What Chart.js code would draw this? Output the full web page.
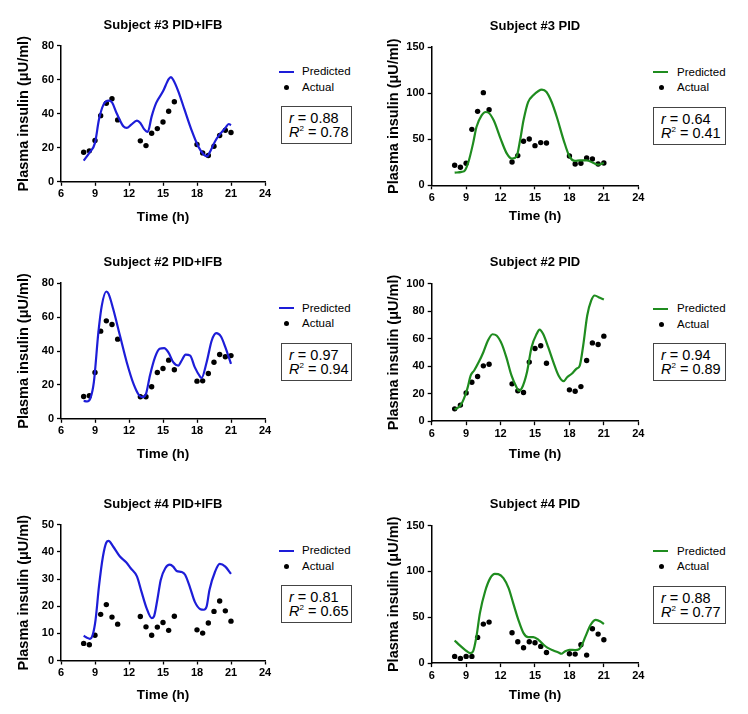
<!DOCTYPE html>
<html>
<head>
<meta charset="utf-8">
<script src="https://cdn.jsdelivr.net/npm/chart.js@4.4.1/dist/chart.umd.min.js"></script>
<style>
  html, body { margin: 0; padding: 0; background: #fff; }
  body { width: 748px; height: 714px; position: relative; overflow: hidden;
         font-family: "Liberation Sans", Arial, Helvetica, sans-serif; color: #000; }
  canvas { position: absolute; }
  .lg-line { position: absolute; width: 15px; height: 2px; }
  .lg-dot { position: absolute; width: 5px; height: 5px; border-radius: 50%; background: #000; }
  .lg-text { position: absolute; font-size: 11.5px; line-height: 12px; white-space: nowrap; }
  .stats { position: absolute; border: 1px solid #444; box-sizing: border-box;
           font-size: 14.5px; line-height: 14px; padding: 4px 0 0 7px; white-space: nowrap; }
  .stats sup { font-size: 8px; vertical-align: 6px; line-height: 0; }
</style>
</head>
<body>
<script>
// sampling times of measured insulin (h)
const sampleTimes = [8, 8.5, 9, 9.5, 10, 10.5, 11, 13, 13.5, 14, 14.5, 15, 15.5, 16, 18, 18.5, 19, 19.5, 20, 20.5, 21];

// Subject #3 PID+IFB
const s3IfbActual = [17.4, 18.2, 24.3, 38.9, 46.2, 48.9, 36.4, 24.1, 21.3, 28.6, 31.3, 35.2, 41.5, 47.1, 21.9, 17.0, 15.5, 20.9, 27.2, 30.3, 29.0];
const s3IfbPredT = [8, 8.5, 9, 9.35, 9.75, 10.2, 10.5, 10.9, 11.5, 11.8, 12.2, 12.7, 13.0, 13.3, 13.65, 14.0, 14.4, 15.0, 15.5, 15.7, 15.9, 16.35, 16.9, 17.5, 18.1, 18.6, 18.9, 19.1, 19.6, 20.0, 20.5, 20.8, 21];
const s3IfbPredV = [12.5, 17, 22.9, 36.6, 45.4, 47.7, 46.7, 40.5, 32.7, 31.7, 33.6, 36, 34.6, 31.3, 29.3, 38.5, 46.4, 53.2, 60.4, 61.6, 60, 53.2, 42.4, 30.7, 20.9, 16, 15, 17, 23.9, 27.8, 31.7, 34, 33.3];

// Subject #3 PID
const s3PidActual = [21.7, 19.5, 23.9, 60.7, 80.2, 100.5, 82.0, 25.3, 32.2, 47.7, 50.2, 43.0, 46.3, 45.9, 31.8, 23.1, 23.9, 29.6, 28.6, 23.1, 24.2];
const s3PidPredT = [8, 8.6, 8.9, 9.2, 9.6, 9.9, 10.35, 10.7, 10.9, 11.4, 12.0, 12.55, 13.0, 13.4, 13.7, 14.0, 14.4, 14.85, 15.3, 15.6, 16.0, 16.45, 16.9, 17.5, 18.0, 18.5, 18.9, 19.5, 20.1, 20.5, 21];
const s3PidPredV = [13.7, 14.5, 16.3, 25.3, 45.2, 63.2, 75.9, 79.5, 79.1, 70.5, 50.6, 34.3, 28.9, 31.4, 48.8, 70.5, 90.3, 97.6, 102.3, 103.7, 101.2, 90.3, 74.1, 48.8, 31.4, 26.4, 27.1, 27.1, 24.2, 22.4, 24.2];

// Subject #2 PID+IFB
const s2IfbActual = [13.2, 13.6, 27.3, 51.7, 57.8, 55.6, 47.0, 13.0, 13.0, 18.9, 27.3, 29.7, 34.6, 28.9, 22.2, 22.4, 26.7, 33.4, 37.9, 36.6, 37.3];
const s2IfbPredT = [8, 8.3, 8.6, 8.9, 9.3, 9.6, 10.0, 10.2, 10.6, 11.2, 11.8, 12.4, 12.9, 13.2, 13.5, 13.85, 14.3, 14.7, 15.1, 15.5, 15.9, 16.35, 16.65, 17.0, 17.4, 17.8, 18.3, 18.4, 18.85, 19.3, 19.7, 20.1, 20.5, 21];
const s2IfbPredV = [10.6, 10.2, 12.2, 21.6, 51.1, 66.8, 75.1, 73.7, 64.9, 49.1, 33.4, 20.6, 13.8, 12.8, 14.7, 25.6, 36.4, 41.3, 41.7, 38.9, 33.4, 31.4, 34.4, 37.9, 37.3, 30.5, 24.6, 24.0, 33.4, 46.2, 50.5, 48.7, 42.3, 32.4];

// Subject #2 PID
const s2PidActual = [9.0, 11.7, 20.6, 28.4, 32.5, 40.3, 41.5, 27.2, 22.1, 20.9, 43.0, 52.9, 54.9, 42.2, 22.8, 21.8, 25.2, 44.2, 57.0, 55.8, 61.9];
const s2PidPredT = [8, 8.5, 8.8, 9.1, 9.4, 9.7, 10.1, 10.5, 10.9, 11.3, 11.65, 12.1, 12.5, 12.95, 13.4, 13.6, 13.85, 14.3, 14.7, 15.15, 15.4, 15.7, 16.15, 16.6, 17.05, 17.5, 17.8, 18.2, 18.6, 18.9, 19.2, 19.55, 19.9, 20.2, 20.65, 21];
const s2PidPredV = [8.5, 11.4, 16.3, 23.5, 33.3, 36.9, 43.0, 50.2, 58.7, 63.3, 62.4, 56.3, 46.6, 33.3, 24.5, 22.0, 24.0, 35.7, 53.9, 63.6, 66.7, 63.6, 53.9, 43.0, 33.3, 29.1, 32.0, 34.5, 38.1, 40.5, 55.1, 76.9, 87.9, 91.5, 89.8, 88.6];

// Subject #4 PID+IFB
const s4IfbActual = [6.3, 5.8, 9.3, 17.0, 20.6, 16.0, 13.4, 16.2, 12.4, 9.3, 12.3, 14.0, 11.1, 16.3, 11.3, 10.1, 13.8, 18.1, 21.9, 18.3, 14.5];
const s4IfbPredT = [8, 8.25, 8.55, 8.8, 9.05, 9.35, 9.7, 10.0, 10.2, 10.6, 11.2, 11.75, 12.15, 12.7, 13.1, 13.55, 14.0, 14.2, 14.5, 14.8, 15.2, 15.6, 15.9, 16.2, 16.65, 16.95, 17.4, 17.8, 18.3, 18.6, 18.85, 19.1, 19.6, 20.0, 20.5, 21];
const s4IfbPredV = [9.1, 8.5, 8.0, 9.5, 15.0, 27.3, 38.3, 43.5, 44.1, 42.0, 38.3, 36.2, 34.0, 31.0, 25.4, 19.3, 15.6, 16.2, 22.4, 29.7, 34.0, 35.3, 34.6, 33.0, 32.6, 31.6, 26.7, 21.7, 18.9, 18.7, 19.9, 26.0, 32.8, 35.6, 34.6, 31.9];

// Subject #4 PID
const s4PidActual = [7.3, 5.1, 7.3, 7.3, 28.0, 42.5, 44.7, 33.1, 23.2, 16.7, 23.2, 22.2, 18.2, 11.6, 10.2, 9.8, 20.0, 8.7, 37.4, 31.6, 25.4];
const s4PidPredT = [8, 8.45, 8.9, 9.35, 9.6, 9.9, 10.2, 10.65, 11.1, 11.5, 11.8, 12.25, 12.7, 13.1, 13.55, 14.0, 14.4, 14.85, 15.3, 15.75, 16.15, 16.6, 17.05, 17.3, 17.6, 18.0, 18.5, 18.85, 19.1, 19.4, 19.85, 20.3, 20.7, 21];
const s4PidPredV = [24.7, 19.3, 14.5, 10.9, 12.7, 29.1, 54.5, 78.1, 92.6, 97.3, 97.0, 92.6, 81.7, 65.4, 47.2, 32.7, 28.3, 28.3, 25.4, 20.0, 16.3, 13.8, 11.6, 10.2, 12.7, 14.5, 14.2, 15.3, 20.0, 29.1, 41.8, 47.2, 45.4, 42.5];

const xTicks = [6, 9, 12, 15, 18, 21, 24];

const BLUE = "#1d1dd8";
const GREEN = "#1f8c1f";

// column geometry (page px)
const columns = [
  { canvasLeft: 0, areaLeft: 61, areaRight: 265, yTitleX: 23.5, lineX: 279, dotX: 284, textX: 302, boxX: 281, boxW: 71 },
  { canvasLeft: 380, areaLeft: 431.7, areaRight: 638.3, yTitleX: 393.5, lineX: 653, dotX: 658.5, textX: 677, boxX: 653, boxW: 73 },
];

const panels = [
  { title: "Subject #3 PID+IFB", col: 0, titleY: 26, areaTop: 46, areaBottom: 182, xTitleY: 217,
    yMax: 80, yStep: 20, color: BLUE, predT: s3IfbPredT, predV: s3IfbPredV, actual: s3IfbActual, r: "0.88", r2: "0.78" },
  { title: "Subject #3 PID", col: 1, titleY: 26.5, areaTop: 46.7, areaBottom: 185, xTitleY: 216,
    yMax: 150, yStep: 50, color: GREEN, predT: s3PidPredT, predV: s3PidPredV, actual: s3PidActual, r: "0.64", r2: "0.41" },
  { title: "Subject #2 PID+IFB", col: 0, titleY: 262.3, areaTop: 282.7, areaBottom: 418.3, xTitleY: 453,
    yMax: 80, yStep: 20, color: BLUE, predT: s2IfbPredT, predV: s2IfbPredV, actual: s2IfbActual, r: "0.97", r2: "0.94" },
  { title: "Subject #2 PID", col: 1, titleY: 262.3, areaTop: 283.3, areaBottom: 420.7, xTitleY: 453.3,
    yMax: 100, yStep: 20, color: GREEN, predT: s2PidPredT, predV: s2PidPredV, actual: s2PidActual, r: "0.94", r2: "0.89" },
  { title: "Subject #4 PID+IFB", col: 0, titleY: 505, areaTop: 525, areaBottom: 660.7, xTitleY: 695,
    yMax: 50, yStep: 10, color: BLUE, predT: s4IfbPredT, predV: s4IfbPredV, actual: s4IfbActual, r: "0.81", r2: "0.65" },
  { title: "Subject #4 PID", col: 1, titleY: 505, areaTop: 525.7, areaBottom: 663.3, xTitleY: 695,
    yMax: 150, yStep: 50, color: GREEN, predT: s4PidPredT, predV: s4PidPredV, actual: s4PidActual, r: "0.88", r2: "0.77" },
];

Chart.defaults.font.family = '"Liberation Sans", Arial, Helvetica, sans-serif';
Chart.defaults.color = "#000";

const TITLE_SIZE = 13, TITLE_LH = TITLE_SIZE * 1.2;
const XT_SIZE = 13.5, XT_LH = XT_SIZE * 1.2;
const YT_SIZE = 14.5, YT_LH = YT_SIZE * 1.2;
const TICK_FONT = { size: 11, weight: "bold" };

function addEl(cls, style, html) {
  const el = document.createElement("div");
  el.className = cls;
  Object.assign(el.style, style);
  if (html) el.innerHTML = html;
  document.body.appendChild(el);
  return el;
}

panels.forEach((p) => {
  const c = columns[p.col];
  const canvasTop = p.titleY - 4 - TITLE_LH / 2;
  const canvasBottom = p.xTitleY + 12;
  const canvasW = Math.round(c.areaRight + 10 - c.canvasLeft);
  const canvasH = canvasBottom - canvasTop;

  const canvas = document.createElement("canvas");
  canvas.width = canvasW;
  canvas.height = Math.round(canvasH);
  canvas.style.left = c.canvasLeft + "px";
  canvas.style.top = canvasTop + "px";
  document.body.appendChild(canvas);

  const yScaleW = c.areaLeft - c.canvasLeft;
  const xScaleH = canvas.height - (p.areaBottom - canvasTop);

  new Chart(canvas, {
    type: "scatter",
    data: {
      datasets: [
        {
          label: "Predicted",
          data: p.predT.map((t, i) => ({ x: t, y: p.predV[i] })),
          showLine: true,
          borderColor: p.color,
          borderWidth: 2.2,
          pointRadius: 0,
          cubicInterpolationMode: "monotone",
        },
        {
          label: "Actual",
          data: sampleTimes.map((t, i) => ({ x: t, y: p.actual[i] })),
          backgroundColor: "#000",
          borderColor: "#000",
          pointRadius: 2.7,
          borderWidth: 0,
        },
      ],
    },
    options: {
      responsive: false,
      animation: false,
      devicePixelRatio: 1,
      layout: { padding: { top: 0, left: 0, bottom: 0, right: canvasW - (c.areaRight - c.canvasLeft) } },
      plugins: {
        legend: { display: false },
        tooltip: { enabled: false },
        title: {
          display: true,
          text: p.title,
          fullSize: false,
          color: "#000",
          font: { size: TITLE_SIZE, weight: "bold" },
          padding: { top: 4, bottom: p.areaTop - canvasTop - 4 - TITLE_LH },
        },
      },
      scales: {
        x: {
          type: "linear",
          min: 6,
          max: 24,
          afterBuildTicks: (s) => { s.ticks = xTicks.map((v) => ({ value: v })); },
          ticks: { font: TICK_FONT, color: "#000", padding: 2 },
          grid: { drawOnChartArea: false, tickLength: 4, tickColor: "#000", tickWidth: 1.3 },
          border: { color: "#000", width: 1.5 },
          title: { display: true, text: "Time (h)", color: "#000",
                   font: { size: XT_SIZE, weight: "bold" }, padding: { top: 0, bottom: 12 - XT_LH / 2 } },
          afterFit: (s) => { s.height = xScaleH; },
        },
        y: {
          min: 0,
          max: p.yMax,
          ticks: { stepSize: p.yStep, font: TICK_FONT, color: "#000", padding: 3 },
          grid: { drawOnChartArea: false, tickLength: 4, tickColor: "#000", tickWidth: 1.3 },
          border: { color: "#000", width: 1.5 },
          title: { display: true, text: "Plasma insulin (\u03bcU/ml)", color: "#000",
                   font: { size: YT_SIZE, weight: "bold" },
                   padding: { top: c.yTitleX - c.canvasLeft - YT_LH / 2, bottom: 0 } },
          afterFit: (s) => { s.width = yScaleW; },
        },
      },
    },
  });

  // legend
  const lineY = p.areaTop + 25.5;
  const dotY = p.areaTop + 41;
  addEl("lg-line", { left: c.lineX + "px", top: (lineY - 1) + "px", background: p.color });
  addEl("lg-text", { left: c.textX + "px", top: (lineY - 6.5) + "px" }, "Predicted");
  addEl("lg-dot", { left: c.dotX + "px", top: (dotY - 2.5) + "px" });
  addEl("lg-text", { left: c.textX + "px", top: (dotY - 6.5) + "px" }, "Actual");

  // correlation box
  addEl("stats", { left: c.boxX + "px", top: (p.areaTop + 60) + "px", width: c.boxW + "px", height: "38px" },
    "<i>r</i> = " + p.r + "<br><i>R</i><sup>2</sup> = " + p.r2);
});
</script>
</body>
</html>
